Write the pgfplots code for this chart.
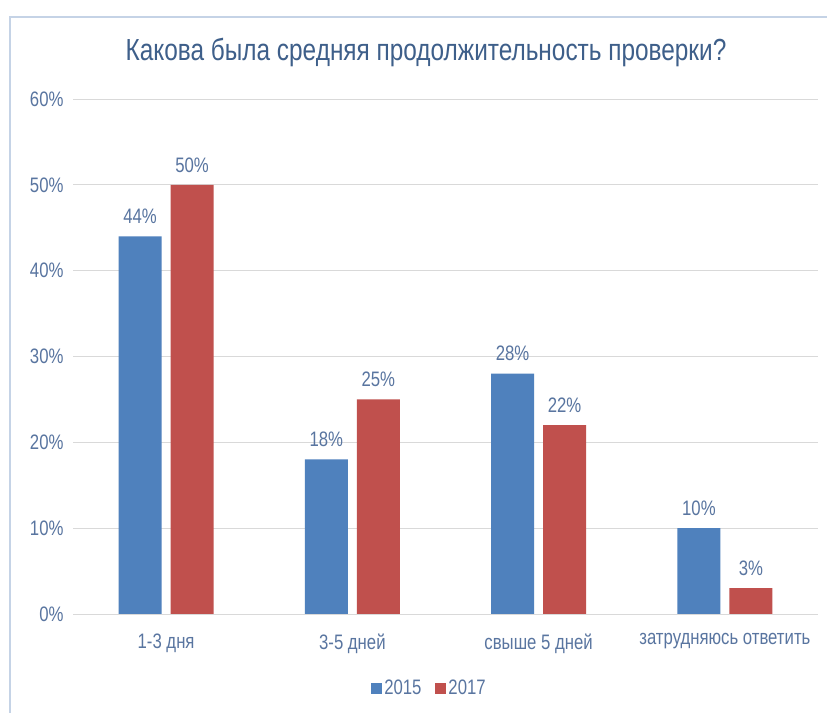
\documentclass[border=0pt]{standalone}
\usepackage{fontspec}
\setmainfont{Liberation Sans}[FakeStretch=0.8]
\usepackage{pgfplots}
\pgfplotsset{compat=1.18}
\definecolor{cblue}{HTML}{4F81BD}
\definecolor{cred}{HTML}{C0504D}
\definecolor{titlec}{HTML}{3E5F8A}
\definecolor{labc}{HTML}{5975A0}
\definecolor{gridc}{HTML}{D9D9D9}
\definecolor{framec}{HTML}{C5D3E6}
\begin{document}
\begin{tikzpicture}[x=1bp,y=1bp]
\fill[white] (0,0) rectangle (827,713);
\useasboundingbox (0,0) rectangle (827,713);
\draw[framec, line width=1.5bp] (10,0) -- (10,696) -- (827,696);
\node[titlec, font=\fontsize{30.6}{35}\selectfont] at (426,661) {Какова была средняя продолжительность проверки?};
\begin{axis}[
  at={(73bp,99bp)}, anchor=south west,
  scale only axis, width=745bp, height=515bp,
  xmin=-0.5, xmax=3.5, ymin=0, ymax=60,
  ytick={0,10,...,60},
  xtick={0,1,2,3},
  xticklabels={1-3 дня, 3-5 дней, свыше 5 дней, затрудняюсь ответить},
  yticklabel={\pgfmathprintnumber{\tick}\%},
  /pgf/number format/assume math mode=true,
  ymajorgrids, grid style={gridc, line width=0.8bp},
  axis line style={draw=none},
  major tick length=0pt,
  ticklabel style={labc, font=\fontsize{21}{24}\selectfont},
  yticklabel style={xshift=-6bp},
  xticklabel style={yshift=-16bp},
  clip=false,
  nodes near coords={\pgfmathprintnumber{\pgfplotspointmeta}\%},
  nodes near coords style={labc, font=\fontsize{21}{24}\selectfont, anchor=south, yshift=9bp},
  legend style={at={(0.4785,-0.144)}, anchor=center, draw=none, fill=none, legend columns=2,
    font=\fontsize{21}{24}\selectfont, text=labc, /tikz/column 2/.style={column sep=12bp},
    /tikz/every odd column/.append style={column sep=0bp}},
  legend image code/.code={\fill[#1] (0bp,-6bp) rectangle (11bp,5.5bp);},
]
\addplot[ybar, bar width=43bp, bar shift=-26bp, fill=cblue, draw=none,
  every node near coord/.append style={xshift=-26bp}] coordinates {(0,44) (1,18) (2,28) (3,10)};
\addlegendentry{2015}
\addplot[ybar, bar width=43bp, bar shift=26bp, fill=cred, draw=none,
  every node near coord/.append style={xshift=26bp}] coordinates {(0,50) (1,25) (2,22) (3,3)};
\addlegendentry{2017}
\end{axis}
\end{tikzpicture}
\end{document}
